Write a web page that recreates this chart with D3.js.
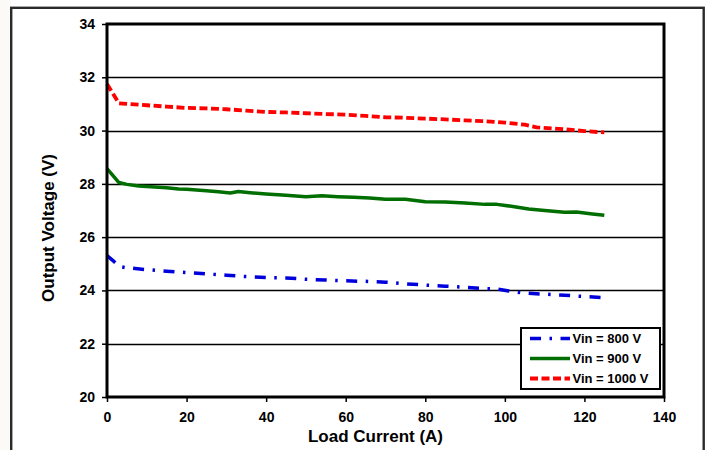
<!DOCTYPE html>
<html>
<head>
<meta charset="utf-8">
<script src="https://cdn.jsdelivr.net/npm/d3@7"></script>
<style>
  html, body { margin: 0; padding: 0; background: #ffffff; }
  svg { display: block; }
  text { font-family: "Liberation Sans", Arial, sans-serif; font-weight: bold; fill: #000; }
</style>
</head>
<body>
<svg id="chart" width="712" height="450"></svg>
<script>
// ---- Data ----
const xTicks = [0, 20, 40, 60, 80, 100, 120, 140];
const yTicks = [20, 22, 24, 26, 28, 30, 32, 34];

const current800 = [0, 1.5, 3, 5, 10, 15, 20, 25, 30, 35, 40, 45, 50, 55, 60, 65, 70, 75, 80, 85, 90, 95, 98, 101, 105, 110, 115, 120, 125];
const vin800     = [25.31, 25.12, 24.9, 24.85, 24.78, 24.72, 24.67, 24.62, 24.57, 24.52, 24.48, 24.47, 24.42, 24.39, 24.36, 24.34, 24.31, 24.25, 24.2, 24.16, 24.12, 24.07, 24.05, 23.98, 23.9, 23.86, 23.82, 23.77, 23.73];

const current900 = [0, 3, 5, 8, 12, 15, 18, 20, 25, 28, 31, 33, 36, 40, 45, 50, 54, 58, 62, 66, 70, 75, 80, 85, 90, 95, 98, 102, 106, 110, 115, 118, 122, 125];
const vin900     = [28.57, 28.05, 27.98, 27.92, 27.88, 27.85, 27.81, 27.8, 27.74, 27.7, 27.66, 27.71, 27.67, 27.62, 27.57, 27.52, 27.55, 27.52, 27.5, 27.47, 27.42, 27.42, 27.33, 27.32, 27.28, 27.23, 27.23, 27.15, 27.06, 27.0, 26.93, 26.94, 26.87, 26.82];

const current1000 = [0, 3, 5, 10, 15, 20, 25, 30, 35, 40, 45, 50, 55, 60, 65, 70, 75, 80, 85, 90, 95, 100, 105, 108, 112, 115, 120, 125];
const vin1000     = [31.75, 31.02, 31.0, 30.95, 30.9, 30.85, 30.83, 30.8, 30.75, 30.7, 30.68, 30.65, 30.62, 30.6, 30.55, 30.5, 30.48, 30.45, 30.42, 30.38, 30.35, 30.3, 30.22, 30.12, 30.08, 30.05, 29.98, 29.93];

const seriesNames = ["Vin = 800 V", "Vin = 900 V", "Vin = 1000 V"];
const xTitle = "Load Current (A)";
const yTitle = "Output Voltage (V)";

// ---- Layout ----
const svg = d3.select("#chart");
const plot = { left: 107, top: 24, right: 664, bottom: 397 };

const styles = [
  { color: "#0000dd", width: 3.5, dash: "11,8.5,2.5,8.5" },
  { color: "#006e00", width: 3.5, dash: null },
  { color: "#ff0000", width: 3.8, dash: "8,3.5" }
];

const series = [
  current800.map((c, i) => ({ x: c, y: vin800[i] })),
  current900.map((c, i) => ({ x: c, y: vin900[i] })),
  current1000.map((c, i) => ({ x: c, y: vin1000[i] }))
];

const x = d3.scaleLinear().domain([0, 140]).range([plot.left, plot.right]);
const y = d3.scaleLinear().domain([20, 34]).range([plot.bottom, plot.top]);

// outer frame
svg.append("rect").attr("x", 0).attr("y", 0).attr("width", 11).attr("height", 450).attr("fill", "#fbfaf7");
svg.append("rect")
  .attr("x", 11.2).attr("y", 7.8).attr("width", 692.5).attr("height", 460)
  .attr("fill", "#fff").attr("stroke", "#2a2a2a").attr("stroke-width", 2.4);

// gridlines
svg.append("g").selectAll("line").data(yTicks.filter(t => t > 20 && t < 34)).join("line")
  .attr("x1", plot.left).attr("x2", plot.right)
  .attr("y1", d => Math.round(y(d)) + 0.5).attr("y2", d => Math.round(y(d)) + 0.5)
  .attr("stroke", "#000").attr("stroke-width", 1.3);

// series lines
const line = d3.line().x(d => x(d.x)).y(d => y(d.y));
series.forEach((s, i) => {
  svg.append("path").datum(s)
    .attr("d", line)
    .attr("fill", "none")
    .attr("stroke", styles[i].color)
    .attr("stroke-width", styles[i].width)
    .attr("stroke-dasharray", styles[i].dash)
    .attr("stroke-linejoin", "round");
});

// axes
const yAxis = d3.axisLeft(y).tickValues(yTicks).tickSize(5).tickPadding(7).tickFormat(d3.format("d"));
const xAxis = d3.axisBottom(x).tickValues(xTicks).tickSize(5).tickPadding(10).tickFormat(d3.format("d"));

const gy = svg.append("g").attr("transform", `translate(${plot.left},0)`).call(yAxis);
const gx = svg.append("g").attr("transform", `translate(0,${plot.bottom})`).call(xAxis);
[gx, gy].forEach(g => {
  g.select(".domain").remove();
  g.selectAll(".tick line").attr("stroke", "#000").attr("stroke-width", 1.5);
  g.selectAll(".tick text").style("font-size", "14px").style("font-weight", "bold")
    .style("font-family", '"Liberation Sans", Arial, sans-serif').attr("fill", "#000");
});

// plot frame (thick)
svg.append("rect")
  .attr("x", plot.left).attr("y", plot.top)
  .attr("width", plot.right - plot.left).attr("height", plot.bottom - plot.top)
  .attr("fill", "none").attr("stroke", "#000").attr("stroke-width", 3);

// axis titles
svg.append("text").attr("x", 375.5).attr("y", 441.5).attr("text-anchor", "middle")
  .style("font-size", "17px").text(xTitle);
svg.append("text").attr("transform", "translate(53.5,228) rotate(-90)").attr("text-anchor", "middle")
  .style("font-size", "17px").text(yTitle);

// legend
const lg = svg.append("g");
lg.append("rect").attr("x", 521).attr("y", 328).attr("width", 139).attr("height", 61)
  .attr("fill", "#fff").attr("stroke", "#000").attr("stroke-width", 2);
seriesNames.forEach((name, i) => {
  const yy = 338.5 + i * 20;
  lg.append("line").attr("x1", 530).attr("x2", 570).attr("y1", yy).attr("y2", yy)
    .attr("stroke", styles[i].color).attr("stroke-width", styles[i].width)
    .attr("stroke-dasharray", styles[i].dash);
  lg.append("text").attr("x", 572.5).attr("y", yy).attr("dy", "0.36em")
    .style("font-size", "13px").text(name);
});
</script>
</body>
</html>
